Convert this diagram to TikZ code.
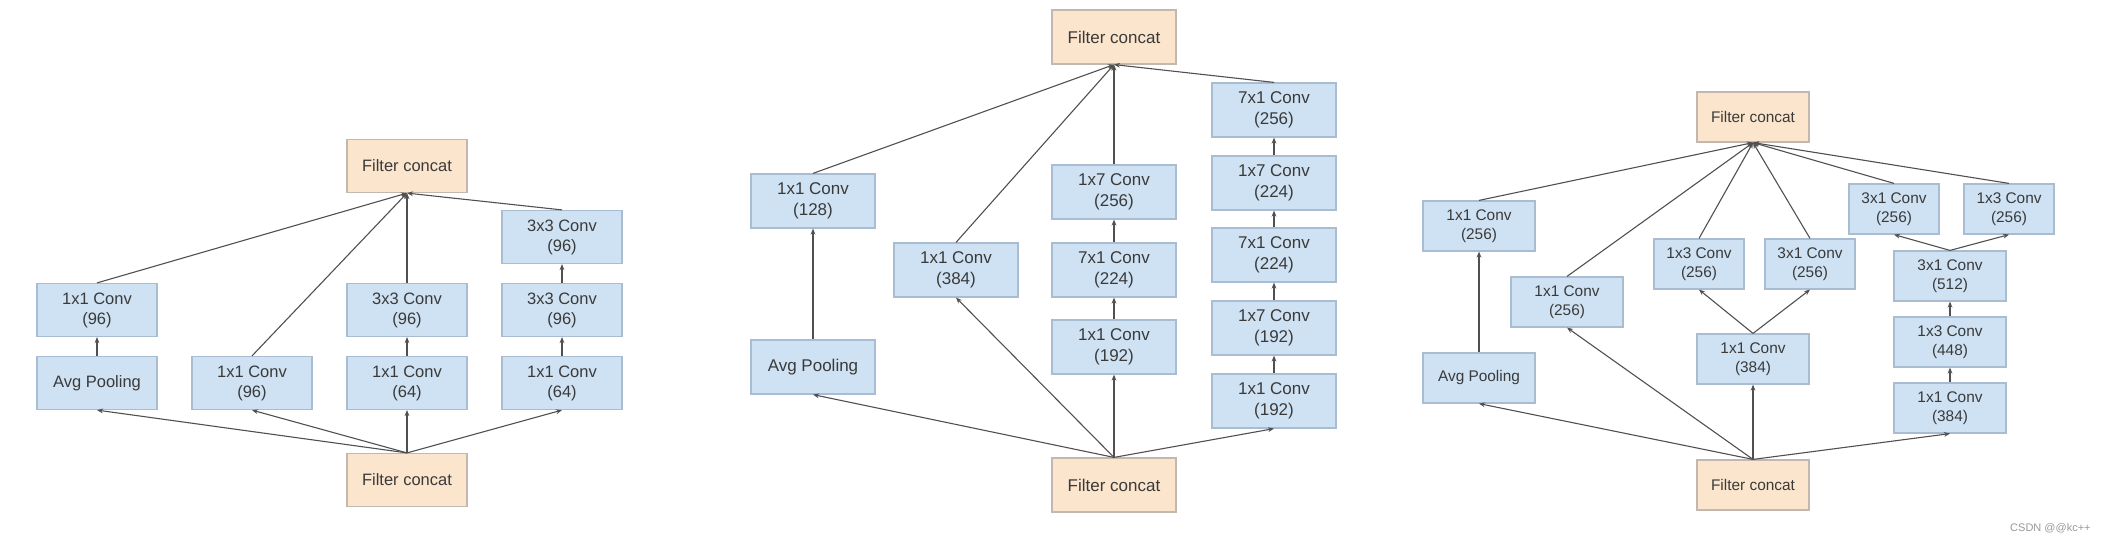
\documentclass[tikz,border=0pt]{standalone}
\usepackage{fontspec}
\setmainfont{Liberation Sans}
\usetikzlibrary{arrows.meta}
\definecolor{convblue}{HTML}{CFE2F3}
\definecolor{convedge}{HTML}{A9BDD2}
\definecolor{catfill}{HTML}{FCE5CD}
\definecolor{catedge}{HTML}{C2B8AE}
\definecolor{inktext}{HTML}{3A3A3A}
\definecolor{inkline}{HTML}{505050}
\tikzset{
  conv/.style={draw=convedge,fill=convblue,line width=0.6pt,minimum width=60pt,minimum height=26.5pt,
    align=center,text=inktext,font=\fontsize{8.25}{10}\selectfont,inner sep=0pt},
  concat/.style={conv,draw=catedge,fill=catfill},
  wide/.style={minimum width=62pt,minimum height=27pt,font=\fontsize{8.5}{10.3}\selectfont},
  small/.style={minimum width=56pt,minimum height=25pt,font=\fontsize{7.7}{9.5}\selectfont},
  thin/.style={minimum width=45pt},
  flow/.style={draw=inkline,line width=0.55pt,-{Stealth[length=3pt,width=2.4pt]}}
}
\begin{document}
\begin{tikzpicture}[x=0.5pt,y=-0.5pt]
  \useasboundingbox (0,0) rectangle (2108,542);

  % Inception-A
  \node[concat] (aOut) at (407,166) {Filter concat};
  \node[conv] (aB1)   at (97,310)  {1x1 Conv\\(96)};
  \node[conv] (aPool) at (97,383)  {Avg Pooling};
  \node[conv] (aB2)   at (252,383) {1x1 Conv\\(96)};
  \node[conv] (aB3b)  at (407,310) {3x3 Conv\\(96)};
  \node[conv] (aB3a)  at (407,383) {1x1 Conv\\(64)};
  \node[conv] (aB4c)  at (562,237) {3x3 Conv\\(96)};
  \node[conv] (aB4b)  at (562,310) {3x3 Conv\\(96)};
  \node[conv] (aB4a)  at (562,383) {1x1 Conv\\(64)};
  \node[concat] (aIn) at (407,480) {Filter concat};

  \foreach \to in {aPool,aB2,aB3a,aB4a}
    \draw[flow] (aIn.north) -- (\to.south);
  \foreach \from/\to in {aPool/aB1,aB3a/aB3b,aB4a/aB4b,aB4b/aB4c}
    \draw[flow] (\from) -- (\to);
  \foreach \from in {aB1,aB2,aB3b,aB4c}
    \draw[flow] (\from.north) -- (aOut.south);

  % Inception-B
  \node[concat,wide] (bOut) at (1114,37) {Filter concat};
  \node[conv,wide] (b1)   at (813,201)  {1x1 Conv\\(128)};
  \node[conv,wide] (bPool) at (813,367) {Avg Pooling};
  \node[conv,wide] (b2)   at (956,270)  {1x1 Conv\\(384)};
  \node[conv,wide] (b3c)  at (1114,192) {1x7 Conv\\(256)};
  \node[conv,wide] (b3b)  at (1114,270) {7x1 Conv\\(224)};
  \node[conv,wide] (b3a)  at (1114,347) {1x1 Conv\\(192)};
  \node[conv,wide] (b4e)  at (1274,110) {7x1 Conv\\(256)};
  \node[conv,wide] (b4d)  at (1274,183) {1x7 Conv\\(224)};
  \node[conv,wide] (b4c)  at (1274,255) {7x1 Conv\\(224)};
  \node[conv,wide] (b4b)  at (1274,328) {1x7 Conv\\(192)};
  \node[conv,wide] (b4a)  at (1274,401) {1x1 Conv\\(192)};
  \node[concat,wide] (bIn) at (1114,485) {Filter concat};

  \foreach \to in {bPool,b2,b3a,b4a}
    \draw[flow] (bIn.north) -- (\to.south);
  \foreach \from/\to in {bPool/b1,b3a/b3b,b3b/b3c,b4a/b4b,b4b/b4c,b4c/b4d,b4d/b4e}
    \draw[flow] (\from) -- (\to);
  \foreach \from in {b1,b2,b3c,b4e}
    \draw[flow] (\from.north) -- (bOut.south);

  % Inception-C
  \node[concat,small] (cOut) at (1753,117) {Filter concat};
  \node[conv,small] (c1)   at (1479,226) {1x1 Conv\\(256)};
  \node[conv,small] (cPool) at (1479,378) {Avg Pooling};
  \node[conv,small] (c2)   at (1567,302) {1x1 Conv\\(256)};
  \node[conv,small,thin] (c3l) at (1699,264) {1x3 Conv\\(256)};
  \node[conv,small,thin] (c3r) at (1810,264) {3x1 Conv\\(256)};
  \node[conv,small] (c3)   at (1753,359) {1x1 Conv\\(384)};
  \node[conv,small,thin] (c4l) at (1894,209) {3x1 Conv\\(256)};
  \node[conv,small,thin] (c4r) at (2009,209) {1x3 Conv\\(256)};
  \node[conv,small] (c4c)  at (1950,276) {3x1 Conv\\(512)};
  \node[conv,small] (c4b)  at (1950,342) {1x3 Conv\\(448)};
  \node[conv,small] (c4a)  at (1950,408) {1x1 Conv\\(384)};
  \node[concat,small] (cIn) at (1753,485) {Filter concat};

  \foreach \to in {cPool,c2,c3,c4a}
    \draw[flow] (cIn.north) -- (\to.south);
  \foreach \from/\to in {cPool/c1,c4a/c4b,c4b/c4c}
    \draw[flow] (\from) -- (\to);
  \foreach \from/\to in {c3/c3l,c3/c3r,c4c/c4l,c4c/c4r}
    \draw[flow] (\from.north) -- (\to.south);
  \foreach \from in {c1,c2,c3l,c3r,c4l,c4r}
    \draw[flow] (\from.north) -- (cOut.south);

  \node[anchor=east,text=gray!80,font=\fontsize{5.5}{6}\selectfont,inner sep=0pt] (mark) at (2091,528) {CSDN @@kc++};
\end{tikzpicture}
\end{document}
